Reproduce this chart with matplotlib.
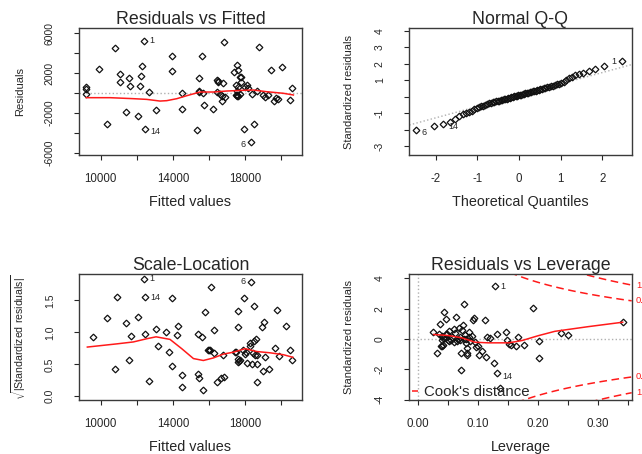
import matplotlib
matplotlib.use("Agg")
from statistics import NormalDist

import numpy as np
from matplotlib import pyplot as plt
from matplotlib.lines import Line2D

plt.rcParams['font.family'] = ['Liberation Sans', 'DejaVu Sans']
plt.rcParams['mathtext.fontset'] = 'custom'
plt.rcParams['mathtext.rm'] = 'Liberation Sans'

# --- Residuals vs Fitted
fitted1 = [9200, 9200, 9210, 9906, 10349, 10775, 11052, 11052, 11418, 11568,
           11640, 12050, 12194, 12216, 12288, 12382, 12454, 12692, 13080, 13933,
           13966, 14520, 14520, 15335, 15429, 15429, 15450, 15595, 15723, 15660,
           16221, 16426, 16515, 16792, 16426, 16600, 16750, 16700, 16831, 17401,
           17534, 17623, 17756, 17720, 17770, 17479, 17534, 17620, 17480, 17530,
           17560, 17610, 17955, 18000, 18088, 18170, 18343, 18360, 18510, 18642,
           18770, 19008, 19102, 19290, 19435, 19617, 19695, 19800, 20044, 20504,
           20615, 16890, 16480, 17700]
resid1 = [620, 450, -100, 2443, -3150, 4490, 1940, 1070, -1940, 1540,
          670, -2340, 670, 1740, 2710, 5260, -3590, 134, -1680, 3720,
          2210, 34, -1610, -3750, 1540, 235, 130, 3720, -1240, 20,
          -1575, 1306, 1140, 975, 134, -100, -300, -800, 5093, 2144,
          2814, 2345, 1575, 1620, 1140, 804, 200, 603, -200, -300,
          -250, -290, -3620, 603, 804, 536, -4890, -100, -3115, 200,
          4590, -200, -435, -200, 2345, -804, -500, -570, 2610, -735,
          470, -370, 1200, -150]
ids1 = {15: "1", 16: "14", 56: "6"}
smooth1_x = [9200, 10520, 11810, 12550, 13290, 13660, 14220, 14770, 15510,
             16250, 16990, 17910, 18470, 19200, 20130, 20680]
smooth1_y = [-470, -470, -570, -640, -810, -770, -570, -270, 100,
             100, 200, 270, 300, 130, -30, -200]

# --- Normal Q-Q (sorted standardized residuals)
qq_std = [-2.02, -1.74, -1.62, -1.50, -1.33, -1.18, -1.06, -0.97, -0.90, -0.83,
          -0.76, -0.70, -0.64, -0.58, -0.53, -0.48, -0.44, -0.40, -0.37, -0.34,
          -0.31, -0.28, -0.26, -0.23, -0.21, -0.18, -0.16, -0.13, -0.11, -0.09,
          -0.06, -0.04, -0.02, 0.03, 0.05, 0.07, 0.10, 0.12, 0.14,
          0.16, 0.19, 0.21, 0.23, 0.26, 0.28, 0.30, 0.33, 0.35, 0.38,
          0.40, 0.43, 0.46, 0.48, 0.51, 0.54, 0.57, 0.60, 0.63, 0.67,
          0.71, 0.75, 0.80, 0.86, 0.93, 1.02, 1.12, 1.22, 1.30, 1.38,
          1.45, 1.54, 1.72, 1.90, 2.15]
qq_ids = {0: "6", 2: "14", len(qq_std) - 1: "1"}

# --- Scale-Location
fitted3 = [9573, 10349, 10903, 10775, 11418, 11551, 11697, 12066, 12382, 12438,
           12438, 12676, 13080, 13191, 13618, 13801, 13933, 13966, 14210, 14282,
           14520, 14504, 15407, 15591, 15410, 15440, 15650, 15761, 15920, 16000,
           16060, 16094, 16260, 16293, 16426, 16662, 16792, 17440, 17590, 17590,
           17600, 17650, 17700, 17620, 17900, 17955, 18000, 18100, 18250, 18300,
           18327, 18360, 18450, 18500, 18510, 18540, 18620, 18640, 18642, 18660,
           18919, 19000, 19030, 19102, 19310, 19656, 19767, 19894, 20266, 20470,
           20615, 17480, 18060, 16850]
sqrt_std3 = [0.92, 1.23, 1.56, 0.42, 1.14, 0.57, 0.94, 1.24, 1.84, 1.55,
             0.98, 0.24, 1.06, 0.79, 1.01, 0.69, 1.53, 0.48, 0.96, 1.10,
             0.34, 0.15, 0.97, 0.92, 0.35, 0.28, 0.10, 1.32, 0.73, 0.72,
             0.73, 1.71, 1.03, 0.67, 0.22, 0.29, 0.645, 0.69, 1.33, 1.09,
             0.58, 0.55, 0.56, 0.53, 0.72, 1.53, 0.66, 0.52, 0.83, 0.78,
             1.79, 0.51, 0.67, 0.87, 1.41, 0.65, 0.89, 0.50, 0.23, 0.65,
             1.08, 0.40, 1.16, 0.62, 0.42, 0.75, 1.35, 0.625, 1.10, 0.72,
             0.56, 0.70, 0.69, 0.30]
ids3 = {8: "1", 9: "14", 50: "6"}
smooth3_x = [9260, 10900, 11810, 12550, 13070, 13840, 14490, 15140, 15690,
             16250, 16800, 17360, 18000, 18650, 19390, 20130, 20650]
smooth3_y = [0.77, 0.82, 0.85, 0.90, 0.93, 0.89, 0.745, 0.59, 0.56,
             0.60, 0.66, 0.69, 0.745, 0.70, 0.68, 0.65, 0.61]

# --- Residuals vs Leverage
lev4 = [0.026, 0.033, 0.038, 0.041, 0.040, 0.043, 0.041, 0.044, 0.048, 0.049,
        0.046, 0.052, 0.056, 0.061, 0.064, 0.066, 0.069, 0.071, 0.072, 0.073,
        0.075, 0.078, 0.079, 0.081, 0.082, 0.083, 0.083, 0.086, 0.088, 0.092,
        0.094, 0.097, 0.102, 0.107, 0.113, 0.114, 0.116, 0.120, 0.128, 0.129,
        0.132, 0.132, 0.137, 0.147, 0.149, 0.152, 0.156, 0.164, 0.167, 0.178,
        0.192, 0.202, 0.203, 0.239, 0.250, 0.342, 0.035, 0.039, 0.042, 0.047,
        0.050, 0.053, 0.058, 0.060, 0.063, 0.067, 0.070, 0.074, 0.077, 0.080,
        0.085, 0.090, 0.095, 0.100]
std4 = [0.46, -0.92, 1.00, 0.18, -0.10, -0.37, -0.48, 1.78, 1.29, 0.35,
        0.05, -0.15, -0.04, 0.68, 1.45, -0.15, 0.72, 0.13, -0.90, -2.06,
        0.90, 2.32, 0.24, -0.02, -0.59, -0.90, -1.03, 0.46, -0.12, 1.23,
        1.38, -0.53, -1.07, -0.81, 1.23, -1.18, 0.13, 0.05, -1.56, 3.46,
        0.35, -2.28, -3.22, 0.46, -0.07, -0.33, -0.37, -0.50, 0.11, -0.37,
        2.02, -0.11, -1.27, 0.37, 0.26, 1.14, 0.30, -0.50, 0.05, 0.30,
        -0.08, 0.55, 0.10, -0.20, 0.40, 0.02, -0.10, 0.60, 0.00, -0.30,
        0.10, 0.20, -0.20, -0.45]
ids4 = {39: "1", 41: "14"}
smooth4_x = [0.027, 0.052, 0.074, 0.096, 0.118, 0.152, 0.174, 0.202, 0.229, 0.285, 0.342]
smooth4_y = [0.29, 0.22, 0.07, -0.22, -0.26, -0.26, -0.11, 0.22, 0.50, 0.81, 1.10]
n_coef = 7
cook_levels = [0.5, 1]

INK = "#262626"
RED = "#ff1a1a"
GRID = "#b0b0b0"

fig = plt.figure(figsize=(6.42, 4.54), dpi=100)
W, H = 642, 454


def add_panel(x0, y0, x1, y1):
    return fig.add_axes([x0 / W, 1 - y1 / H, (x1 - x0) / W, (y1 - y0) / H])


def style(ax, title, xlabel, ylabel, xticks, xlabels, yticks, ylabels, ylab_x):
    ax.set_xticks(xticks)
    ax.set_xticklabels(xlabels)
    ax.set_yticks(yticks)
    ax.set_yticklabels(ylabels, rotation=90, va='center')
    ax.tick_params(direction='out', length=3.6, width=0.8, color=INK, labelcolor=INK)
    ax.tick_params(axis='x', pad=9, labelsize=8.3)
    ax.tick_params(axis='y', pad=14, labelsize=7.5)
    for s in ax.spines.values():
        s.set_color("#3a3a3a")
        s.set_linewidth(1.0)
    ax.set_title(title, fontsize=12.8, color=INK, pad=3)
    ax.set_xlabel(xlabel, fontsize=10.4, color=INK, labelpad=7.5)
    ax.set_ylabel(ylabel, fontsize=8, color=INK)
    ax.yaxis.set_label_coords(ylab_x, 0.5)


def scatter(ax, x, y):
    ax.plot(x, y, ls='none', marker='D', ms=3.4, mfc='none', mec='#111111', mew=0.9)


def label_ids(ax, x, y, ids):
    mid = np.mean(ax.get_xlim())
    for i, txt in ids.items():
        left = x[i] < mid
        dy = -2 if y[i] < 0 else 0
        ax.annotate(txt, (x[i], y[i]), xytext=(4 if left else -4, dy), textcoords='offset points',
                    ha='left' if left else 'right', va='center', fontsize=6.5, color=INK,
                    annotation_clip=False)


# panel 1
ax1 = add_panel(79.3, 28.3, 301.7, 155)
ax1.set_xlim(8814, 21141)
ax1.set_ylim(-6231, 6503)
ax1.axhline(0, color=GRID, ls=':', lw=1)
scatter(ax1, fitted1, resid1)
ax1.plot(smooth1_x, smooth1_y, color=RED, lw=1.1)
label_ids(ax1, fitted1, resid1, ids1)
style(ax1, "Residuals vs Fitted", "Fitted values", "Residuals",
      range(10000, 20001, 2000), ["10000", "", "14000", "", "18000", ""],
      range(-6000, 6001, 2000), ["-6000", "", "-2000", "", "2000", "", "6000"], -0.244)

# panel 2
ax2 = add_panel(409.3, 28.3, 631.7, 155)
n = len(qq_std)
theo = [NormalDist().inv_cdf((i + 0.5) / n) for i in range(n)]
ax2.set_xlim(-2.64, 2.71)
ax2.set_ylim(-3.53, 4.16)
q1, q3 = np.quantile(qq_std, [0.25, 0.75])
t1, t3 = NormalDist().inv_cdf(0.25), NormalDist().inv_cdf(0.75)
slope = (q3 - q1) / (t3 - t1)
ax2.axline((0, q1 - slope * t1), slope=slope, color=GRID, ls=':', lw=1)
scatter(ax2, theo, qq_std)
label_ids(ax2, theo, qq_std, qq_ids)
style(ax2, "Normal Q-Q", "Theoretical Quantiles", "Standardized residuals",
      range(-2, 3), ["-2", "-1", "0", "1", "2"],
      range(-3, 5), ["-3", "", "-1", "", "1", "2", "3", "4"], -0.249)

# panel 3
ax3 = add_panel(79.3, 273.7, 301.7, 400.3)
ax3.set_xlim(8814, 21141)
ax3.set_ylim(-0.0625, 1.917)
scatter(ax3, fitted3, sqrt_std3)
ax3.plot(smooth3_x, smooth3_y, color=RED, lw=1.1)
label_ids(ax3, fitted3, sqrt_std3, ids3)
style(ax3, "Scale-Location", "Fitted values", r"$\sqrt{|\mathrm{Standardized\ residuals}|}$",
      range(10000, 20001, 2000), ["10000", "", "14000", "", "18000", ""],
      [0, 0.5, 1.0, 1.5], ["0.0", "0.5", "1.0", "1.5"], -0.232)
ax3.yaxis.label.set_fontsize(7.6)

# panel 4
ax4 = add_panel(409.3, 273.7, 631.7, 400.3)
ax4.set_xlim(-0.0137, 0.357)
ax4.set_ylim(-4.05, 4.3)
ax4.axhline(0, color=GRID, ls=':', lw=1)
ax4.axvline(0, color=GRID, ls=':', lw=1)
scatter(ax4, lev4, std4)
ax4.plot(smooth4_x, smooth4_y, color=RED, lw=1.1)
label_ids(ax4, lev4, std4, ids4)
x_right = ax4.get_xlim()[1]
hh = np.linspace(min(min(lev4), max(lev4) / 100), x_right, 101)
for d in cook_levels:
    cl = np.sqrt(d * n_coef * (1 - hh) / hh)
    ax4.plot(hh, cl, color=RED, ls=(0, (5, 3)), lw=1.1)
    ax4.plot(hh, -cl, color=RED, ls=(0, (5, 3)), lw=1.1)
    yv = np.sqrt(d * n_coef * (1 - x_right) / x_right)
    for sgn in (1, -1):
        ax4.annotate(f"{d:g}", (x_right, sgn * yv), xytext=(3, 0), textcoords='offset points',
                     ha='left', va='center', fontsize=6.8, color=RED, annotation_clip=False)
ax4.legend(handles=[Line2D([], [], color=RED, ls=(0, (4, 3)), lw=1.1)], labels=["Cook's distance"],
           loc='lower left', bbox_to_anchor=(0.011, 0.01), frameon=False, fontsize=10.8,
           borderpad=0, borderaxespad=0, handlelength=0.4, handletextpad=0.45, labelcolor=INK)
style(ax4, "Residuals vs Leverage", "Leverage", "Standardized residuals",
      np.arange(0, 0.351, 0.05), ["0.00", "", "0.10", "", "0.20", "", "0.30", ""],
      range(-4, 5, 2), ["-4", "-2", "0", "2", "4"], -0.249)

fig.savefig("out.png", dpi=100)
